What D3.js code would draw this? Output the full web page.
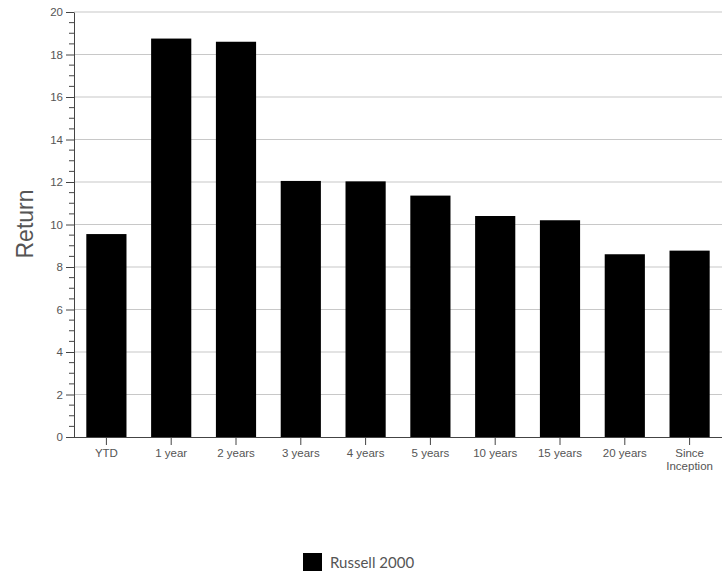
<!DOCTYPE html>
<html>
<head>
<meta charset="utf-8">
<script src="https://cdn.jsdelivr.net/npm/d3@7"></script>
<style>
  html, body { margin: 0; padding: 0; background: #fff; }
  svg { display: block; }
</style>
</head>
<body>
<svg id="chart" width="728" height="573"></svg>
<script>
const categories = ["YTD", "1 year", "2 years", "3 years", "4 years", "5 years", "10 years", "15 years", "20 years", "Since Inception"];
const russell2000 = [9.55, 18.75, 18.6, 12.05, 12.03, 11.36, 10.4, 10.2, 8.6, 8.77];
const yTicks = [0, 2, 4, 6, 8, 10, 12, 14, 16, 18, 20];
const seriesName = "Russell 2000";
const axisTitle = "Return";

(function () {
const svg = d3.select("#chart");
const pLeft = 74, pRight = 722, pTop = 12, pBottom = 437;
const font = "'Liberation Sans', Arial, sans-serif";

const x = d3.scaleBand().domain(categories).range([pLeft, pRight]).paddingInner(0.38).paddingOuter(0.19);
const y = d3.scaleLinear().domain([0, 20]).range([pBottom, pTop]);

// gridlines
svg.append("g").selectAll("line").data(yTicks.filter(d => d > 0)).join("line")
  .attr("x1", pLeft).attr("x2", pRight)
  .attr("y1", d => y(d)).attr("y2", d => y(d))
  .attr("stroke", "#c8c8c8").attr("stroke-width", 1.2);

// bars
svg.append("g").selectAll("rect").data(categories).join("rect")
  .attr("x", d => x(d))
  .attr("width", x.bandwidth())
  .attr("y", (d, i) => y(russell2000[i]))
  .attr("height", (d, i) => y(0) - y(russell2000[i]))
  .attr("fill", "#000");

// y axis
const minor = d3.range(0, 20.01, 0.5).filter(v => v % 2 !== 0);
const yAxisG = svg.append("g").attr("transform", `translate(${pLeft},0)`)
  .call(d3.axisLeft(y).tickValues(yTicks).tickSize(8).tickPadding(3).tickSizeOuter(0));
yAxisG.select(".domain").attr("stroke", "#444");
yAxisG.selectAll(".tick line").attr("stroke", "#444");
yAxisG.selectAll(".tick text").attr("fill", "#555").style("font-family", font).style("font-size", "11.5px");
yAxisG.append("g").selectAll("line").data(minor).join("line")
  .attr("x1", -5).attr("x2", 0)
  .attr("y1", d => y(d)).attr("y2", d => y(d))
  .attr("stroke", "#444");

// x axis
const xAxisG = svg.append("g").attr("transform", `translate(0,${pBottom})`)
  .call(d3.axisBottom(x).tickSize(8).tickPadding(4).tickSizeOuter(0));
xAxisG.select(".domain").attr("stroke", "#444").attr("d", `M${pLeft},0.5H${pRight}`);
xAxisG.selectAll(".tick line").attr("stroke", "#444");
xAxisG.selectAll(".tick text")
  .attr("fill", "#555")
  .style("font-family", font).style("font-size", "11.5px")
  .each(function(d) {
    const words = d === "Since Inception" ? ["Since", "Inception"] : [d];
    const t = d3.select(this);
    t.text(null);
    words.forEach((w, i) => t.append("tspan").attr("x", 0).attr("dy", i === 0 ? "0.71em" : "1.15em").text(w));
  });

// y title
svg.append("text")
  .attr("transform", "translate(33,224) rotate(-90)")
  .attr("text-anchor", "middle")
  .attr("fill", "#555")
  .style("font-family", font)
  .style("font-size", "23px")
  .text(axisTitle);

// legend
const lg = svg.append("g").attr("transform", "translate(303,553)");
lg.append("rect").attr("width", 19).attr("height", 18).attr("fill", "#000");
lg.append("text").attr("x", 27).attr("y", 15)
  .attr("fill", "#555")
  .style("font-family", "Lato, 'Open Sans', sans-serif")
  .style("font-size", "15px")
  .text(seriesName);
})();
</script>
</body>
</html>
